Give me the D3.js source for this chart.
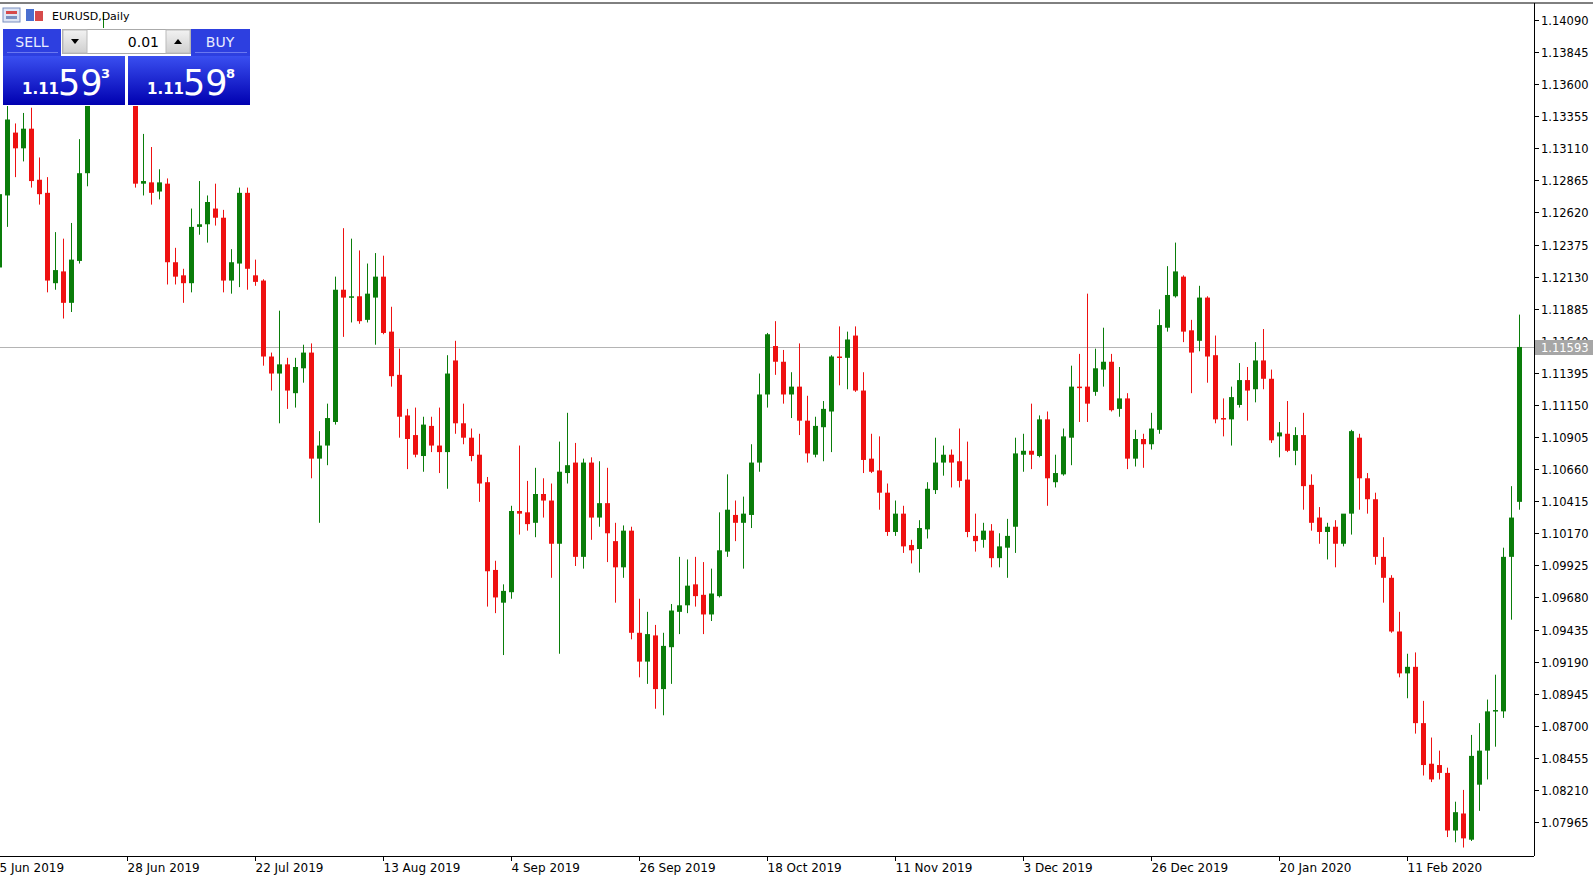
<!DOCTYPE html>
<html>
<head>
<meta charset="utf-8">
<style>
  body { margin: 0; background: #fff; }
  svg text { font-family: "DejaVu Sans", Tahoma, sans-serif; }
</style>
<script src="https://d3js.org/d3.v7.min.js"></script>
</head>
<body>
<svg id="chart"></svg>
<script>
// EURUSD daily, 5 Jun 2019 - early Mar 2020
var opens = [1.1220,1.1275,1.1323,1.1311,1.1326,1.1287,1.1277,1.1208,1.1217,1.1193,
  1.1225,1.1292,1.1348,1.1371,1.1394,1.1382,1.1386,1.1352,1.1284,1.1285,
  1.1278,1.1284,1.1224,1.1214,1.1208,1.1251,1.1253,1.1265,1.1258,1.1210,
  1.1223,1.1277,1.1214,1.1210,1.1152,1.1139,1.1146,1.1124,1.1143,1.1155,
  1.1074,1.1084,1.1102,1.1203,1.1197,1.1198,1.1180,1.1197,1.1213,1.1171,
  1.1138,1.1107,1.1092,1.1076,1.1099,1.1084,1.1079,1.1149,1.1101,1.1090,
  1.1077,1.1056,1.0989,1.0964,1.0972,1.1034,1.1033,1.1025,1.1047,1.1042,
  1.1009,1.1063,1.1071,1.0999,1.1071,1.1029,1.1040,1.1011,1.0991,1.1019,
  1.0941,1.0919,1.0939,1.0898,1.0930,1.0957,1.0962,1.0978,1.0970,1.0955,
  1.0969,1.1003,1.1031,1.1025,1.1031,1.1071,1.1123,1.1160,1.1148,1.1123,
  1.1129,1.1103,1.1077,1.1098,1.1110,1.1152,1.1151,1.1168,1.1126,1.1074,
  1.1065,1.1048,1.1018,1.1032,1.1008,1.1005,1.1020,1.1050,1.1071,1.1077,
  1.1072,1.1058,1.1015,1.1012,1.1019,1.0998,1.1006,1.1022,1.1077,1.1080,
  1.1076,1.1104,1.1056,1.1062,1.1090,1.1129,1.1129,1.1125,1.1142,1.1148,
  1.1112,1.1120,1.1074,1.1089,1.1085,1.1096,1.1174,1.1198,1.1213,1.1172,
  1.1164,1.1197,1.1153,1.1105,1.1104,1.1115,1.1134,1.1127,1.1149,1.1135,
  1.1091,1.1093,1.1080,1.1092,1.1054,1.1029,1.1018,1.1022,1.1009,1.1032,
  1.1090,1.1059,1.1043,1.0999,1.0983,1.0942,1.0910,1.0915,1.0872,1.0841,
  1.0840,1.0834,1.0790,1.0803,1.0783,1.0825,1.0851,1.0881,1.0881,1.0999,
  1.1041];
var highs = [1.1280,1.1344,1.1330,1.1338,1.1342,1.1304,1.1289,1.1247,1.1242,1.1254,
  1.1318,1.1352,1.1378,1.1414,1.1401,1.1398,1.1390,1.1356,1.1322,1.1312,
  1.1295,1.1288,1.1235,1.1219,1.1265,1.1286,1.1275,1.1284,1.1264,1.1234,
  1.1281,1.1281,1.1226,1.1211,1.1155,1.1187,1.1151,1.1151,1.1161,1.1162,
  1.1095,1.1116,1.1213,1.1250,1.1242,1.1233,1.1223,1.1231,1.1229,1.1190,
  1.1158,1.1112,1.1113,1.1106,1.1106,1.1113,1.1153,1.1164,1.1116,1.1097,
  1.1093,1.1060,1.0996,1.0978,1.1038,1.1084,1.1057,1.1067,1.1059,1.1055,
  1.1087,1.1109,1.1086,1.1074,1.1075,1.1072,1.1067,1.1025,1.1023,1.1022,
  1.0967,1.0957,1.0947,1.0941,1.0963,1.0999,1.0997,1.0999,1.0995,1.0990,
  1.1033,1.1062,1.1042,1.1045,1.1085,1.1139,1.1170,1.1179,1.1157,1.1140,
  1.1162,1.1122,1.1106,1.1118,1.1153,1.1175,1.1171,1.1175,1.1140,1.1093,
  1.1091,1.1055,1.1042,1.1038,1.1012,1.1027,1.1056,1.1090,1.1084,1.1081,
  1.1097,1.1087,1.1032,1.1025,1.1024,1.1017,1.1028,1.1090,1.1093,1.1116,
  1.1107,1.1110,1.1077,1.1097,1.1145,1.1154,1.1200,1.1158,1.1174,1.1154,
  1.1144,1.1124,1.1096,1.1093,1.1109,1.1188,1.1221,1.1239,1.1214,1.1180,
  1.1206,1.1198,1.1168,1.1120,1.1129,1.1147,1.1144,1.1163,1.1173,1.1142,
  1.1102,1.1118,1.1098,1.1109,1.1062,1.1037,1.1025,1.1027,1.1031,1.1096,
  1.1093,1.1063,1.1048,1.1014,1.0985,1.0957,1.0925,1.0926,1.0889,1.0861,
  1.0851,1.0838,1.0812,1.0821,1.0863,1.0872,1.0890,1.0909,1.1006,1.1053,
  1.1184];
var lows = [1.1218,1.1251,1.1289,1.1301,1.1281,1.1268,1.1201,1.1203,1.1181,1.1186,
  1.1223,1.1282,1.1345,1.1365,1.1371,1.1367,1.1348,1.1281,1.1275,1.1268,
  1.1272,1.1207,1.1207,1.1193,1.1201,1.1245,1.1239,1.1252,1.1201,1.1200,
  1.1205,1.1203,1.1206,1.1145,1.1126,1.1101,1.1112,1.1113,1.1132,1.1059,
  1.1025,1.1069,1.1100,1.1167,1.1178,1.1177,1.1178,1.1161,1.1169,1.1129,
  1.1090,1.1066,1.1075,1.1064,1.1079,1.1063,1.1051,1.1093,1.1085,1.1072,
  1.1041,1.0961,1.0956,1.0924,1.0967,1.1016,1.1019,1.1014,1.1029,1.0983,
  1.0925,1.1055,1.0992,1.0990,1.1012,1.1022,1.0995,1.0964,1.0983,1.0936,
  1.0907,1.0902,1.0883,1.0878,1.0902,1.0940,1.0956,1.0961,1.0940,1.0950,
  1.0968,1.0999,1.1011,1.0990,1.1021,1.1064,1.1113,1.1138,1.1116,1.1105,
  1.1092,1.1071,1.1075,1.1072,1.1079,1.1130,1.1127,1.1125,1.1063,1.1063,
  1.1035,1.1015,1.1015,1.1002,1.0994,1.0987,1.1013,1.1047,1.1061,1.1052,
  1.1052,1.1014,1.1003,1.1006,1.0991,1.0991,1.0983,1.1002,1.1064,1.1066,
  1.1075,1.1038,1.1052,1.1061,1.1069,1.1102,1.1102,1.1122,1.1129,1.1110,
  1.1106,1.1066,1.1068,1.1067,1.1081,1.1093,1.1171,1.1197,1.1163,1.1124,
  1.1156,1.1132,1.1101,1.1091,1.1084,1.1113,1.1103,1.1117,1.1127,1.1086,
  1.1075,1.1079,1.1069,1.1035,1.1019,1.1009,1.0997,1.0991,1.1007,1.1016,
  1.1035,1.1032,1.0993,1.0964,1.0941,1.0907,1.0891,1.0864,1.0832,1.0827,
  1.0829,1.0785,1.0781,1.0777,1.0782,1.0805,1.0829,1.0854,1.0876,1.0951,
  1.1035];
var closes = [1.1276,1.1333,1.1311,1.1326,1.1286,1.1276,1.1210,1.1218,1.1193,1.1226,
  1.1292,1.1348,1.1371,1.1394,1.1382,1.1386,1.1356,1.1284,1.1286,1.1277,
  1.1285,1.1224,1.1213,1.1208,1.1251,1.1253,1.1270,1.1258,1.1210,1.1224,
  1.1277,1.1219,1.1209,1.1152,1.1139,1.1146,1.1126,1.1144,1.1155,1.1074,
  1.1084,1.1105,1.1203,1.1197,1.1198,1.1179,1.1200,1.1213,1.1170,1.1137,
  1.1106,1.1089,1.1077,1.1100,1.1084,1.1079,1.1139,1.1101,1.1090,1.1076,
  1.1055,1.0988,1.0968,1.0973,1.1034,1.1032,1.1024,1.1047,1.1042,1.1009,
  1.1064,1.1069,1.0999,1.1071,1.1029,1.1040,1.1017,1.0991,1.1019,1.0941,
  1.0919,1.0940,1.0898,1.0931,1.0958,1.0962,1.0977,1.0969,1.0955,1.0971,
  1.1004,1.1035,1.1025,1.1032,1.1071,1.1123,1.1169,1.1148,1.1123,1.1129,
  1.1103,1.1078,1.1099,1.1112,1.1152,1.1151,1.1165,1.1126,1.1073,1.1064,
  1.1048,1.1018,1.1032,1.1007,1.1004,1.1021,1.1051,1.1071,1.1077,1.1071,
  1.1057,1.1018,1.1011,1.1019,1.0998,1.1007,1.1015,1.1078,1.1080,1.1077,
  1.1104,1.1059,1.1063,1.1091,1.1129,1.1128,1.1116,1.1143,1.1148,1.1111,
  1.1120,1.1074,1.1089,1.1085,1.1097,1.1176,1.1199,1.1217,1.1171,1.1155,
  1.1197,1.1152,1.1104,1.1104,1.1121,1.1134,1.1126,1.1149,1.1135,1.1088,
  1.1094,1.1080,1.1092,1.1053,1.1025,1.1018,1.1022,1.1009,1.1032,1.1095,
  1.1059,1.1043,1.0999,1.0983,1.0942,1.0910,1.0915,1.0872,1.0840,1.0829,
  1.0834,1.0790,1.0804,1.0784,1.0847,1.0851,1.0881,1.0882,1.0999,1.1029,
  1.11593];

var priceTicks = ["1.07965","1.08210","1.08455","1.08700","1.08945","1.09190","1.09435","1.09680",
  "1.09925","1.10170","1.10415","1.10660","1.10905","1.11150","1.11395","1.11640","1.11885",
  "1.12130","1.12375","1.12620","1.12865","1.13110","1.13355","1.13600","1.13845","1.14090"];
var dateLabels = ["5 Jun 2019","28 Jun 2019","22 Jul 2019","13 Aug 2019","4 Sep 2019","26 Sep 2019",
  "18 Oct 2019","11 Nov 2019","3 Dec 2019","26 Dec 2019","20 Jan 2020","11 Feb 2020"];
var dateBars = [0,16,32,48,64,80,96,112,128,144,160,176];
var lastPrice = 1.11593;

var W = 1593, H = 879;
var axisX = 1534, axisY = 856, topY = 3;
var barGap = 8, bodyW = 5;
var upColor = "#0a7d0a", downColor = "#ee1111";

var svg = d3.select("#chart").attr("width", W).attr("height", H);

var x = d3.scaleLinear().domain([0, opens.length - 1])
  .range([-0.7, -0.7 + (opens.length - 1) * barGap]);
var y = d3.scaleLinear().domain([1.07965, 1.14090]).range([822, 20]);

var candles = opens.map(function(o, i) {
  return {i: i, o: o, h: highs[i], l: lows[i], c: closes[i]};
});

// frame
svg.append("line").attr("x1", 0).attr("x2", W).attr("y1", topY).attr("y2", topY)
  .attr("stroke", "#000").attr("stroke-width", 1);
svg.append("line").attr("x1", axisX + 0.5).attr("x2", axisX + 0.5).attr("y1", topY).attr("y2", axisY)
  .attr("stroke", "#000");
svg.append("line").attr("x1", 0).attr("x2", axisX).attr("y1", axisY + 0.5).attr("y2", axisY + 0.5)
  .attr("stroke", "#000");

var plot = svg.append("g");
plot.append("clipPath").attr("id", "clip").append("rect")
  .attr("x", 0).attr("y", topY + 1).attr("width", axisX).attr("height", axisY - topY - 1);
var g = plot.append("g").attr("clip-path", "url(#clip)");

// price line
g.append("line").attr("x1", 0).attr("x2", axisX)
  .attr("y1", Math.round(y(lastPrice)) + 0.5).attr("y2", Math.round(y(lastPrice)) + 0.5)
  .attr("stroke", "#b4b4b4");

// candles
var cg = g.selectAll("g.candle").data(candles).enter().append("g").attr("class", "candle");
cg.append("line")
  .attr("x1", function(d) { return Math.round(x(d.i)) + 0.5; })
  .attr("x2", function(d) { return Math.round(x(d.i)) + 0.5; })
  .attr("y1", function(d) { return y(d.h); })
  .attr("y2", function(d) { return y(d.l); })
  .attr("stroke", function(d) { return d.c >= d.o ? upColor : downColor; })
  .attr("stroke-width", 1);
cg.append("rect")
  .attr("x", function(d) { return Math.round(x(d.i)) - 2; })
  .attr("y", function(d) { return y(Math.max(d.o, d.c)); })
  .attr("width", bodyW)
  .attr("height", function(d) { return Math.max(1.5, Math.abs(y(d.o) - y(d.c))); })
  .attr("fill", function(d) { return d.c >= d.o ? upColor : downColor; });

// price axis
var ya = svg.append("g");
priceTicks.forEach(function(t) {
  var yy = Math.round(y(+t)) + 0.5;
  ya.append("line").attr("x1", axisX).attr("x2", axisX + 5).attr("y1", yy).attr("y2", yy).attr("stroke", "#000");
  ya.append("text").attr("x", axisX + 7).attr("y", yy + 4).attr("font-size", 11.5).attr("fill", "#000").text(t);
});
var ly = Math.round(y(lastPrice));
ya.append("rect").attr("x", axisX + 1).attr("y", ly - 7).attr("width", 58).attr("height", 15).attr("fill", "#a6a6a6");
ya.append("text").attr("x", axisX + 7).attr("y", ly + 4.5).attr("font-size", 11.5).attr("fill", "#fff").text(lastPrice.toFixed(5));

// date axis
var xa = svg.append("g");
dateLabels.forEach(function(lbl, k) {
  var xx = Math.round(x(dateBars[k])) + 0.5;
  xa.append("line").attr("x1", xx).attr("x2", xx).attr("y1", axisY).attr("y2", axisY + 5).attr("stroke", "#000");
  xa.append("text").attr("x", xx).attr("y", axisY + 16).attr("font-size", 12).attr("fill", "#000").text(lbl);
});

// header
var hd = svg.append("g");
hd.append("rect").attr("x", 3).attr("y", 8).attr("width", 17).attr("height", 14).attr("fill", "#dfe6f5").attr("stroke", "#7a8fc0");
hd.append("rect").attr("x", 6).attr("y", 11).attr("width", 11).attr("height", 3).attr("fill", "#d64a4a");
hd.append("rect").attr("x", 6).attr("y", 16).attr("width", 11).attr("height", 3).attr("fill", "#7a8fc0");
hd.append("rect").attr("x", 26).attr("y", 9).attr("width", 8).attr("height", 12).attr("fill", "#4a6fd0");
hd.append("rect").attr("x", 35).attr("y", 11).attr("width", 8).attr("height", 10).attr("fill", "#d64a4a");
hd.append("text").attr("x", 52).attr("y", 20).attr("font-size", 11).attr("fill", "#000").text("EURUSD,Daily");

// one-click trading panel
var defs = svg.append("defs");
var gr = defs.append("linearGradient").attr("id", "blue").attr("x1", 0).attr("x2", 0).attr("y1", 0).attr("y2", 1);
gr.append("stop").attr("offset", "0%").attr("stop-color", "#3a4ff0");
gr.append("stop").attr("offset", "100%").attr("stop-color", "#0000b0");
var gr2 = defs.append("linearGradient").attr("id", "grey").attr("x1", 0).attr("x2", 0).attr("y1", 0).attr("y2", 1);
gr2.append("stop").attr("offset", "0%").attr("stop-color", "#f2f2f2");
gr2.append("stop").attr("offset", "100%").attr("stop-color", "#cfcfcf");

var p = svg.append("g").style("font-family", "'Liberation Sans', Arial, sans-serif");
p.append("rect").attr("x", 2).attr("y", 28).attr("width", 250).attr("height", 78).attr("fill", "#fff");
p.append("rect").attr("x", 3).attr("y", 29).attr("width", 58).attr("height", 27).attr("fill", "#2d3fe0");
p.append("line").attr("x1", 7).attr("x2", 58).attr("y1", 52.5).attr("y2", 52.5).attr("stroke", "#6a78f0");
p.append("text").attr("x", 32).attr("y", 47).attr("text-anchor", "middle").attr("font-size", 14).attr("fill", "#e8ecff").text("SELL");
p.append("rect").attr("x", 191).attr("y", 29).attr("width", 59).attr("height", 27).attr("fill", "#2d3fe0");
p.append("line").attr("x1", 195).attr("x2", 247).attr("y1", 52.5).attr("y2", 52.5).attr("stroke", "#6a78f0");
p.append("text").attr("x", 220).attr("y", 47).attr("text-anchor", "middle").attr("font-size", 14).attr("fill", "#e8ecff").text("BUY");
p.append("rect").attr("x", 62.5).attr("y", 29.5).attr("width", 128).attr("height", 24).attr("fill", "#fff").attr("stroke", "#aaa");
p.append("rect").attr("x", 63).attr("y", 30).attr("width", 24).attr("height", 23).attr("fill", "url(#grey)").attr("stroke", "#bbb");
p.append("rect").attr("x", 166).attr("y", 30).attr("width", 24).attr("height", 23).attr("fill", "url(#grey)").attr("stroke", "#bbb");
p.append("path").attr("d", "M71,39 L79,39 L75,44 Z").attr("fill", "#000");
p.append("path").attr("d", "M174,44 L182,44 L178,39 Z").attr("fill", "#000");
p.append("text").attr("x", 159).attr("y", 47).attr("text-anchor", "end").attr("font-size", 14).attr("fill", "#000").text("0.01");

[[3, "1.11", "59", "3"], [128, "1.11", "59", "8"]].forEach(function(b) {
  p.append("rect").attr("x", b[0]).attr("y", 56).attr("width", 122).attr("height", 49).attr("fill", "url(#blue)");
  p.append("text").attr("x", b[0] + 19).attr("y", 94).attr("font-size", 15).attr("font-weight", "bold").attr("fill", "#fff").text(b[1]);
  p.append("text").attr("x", b[0] + 55).attr("y", 95).attr("font-size", 35).attr("fill", "#fff").text(b[2]);
  p.append("text").attr("x", b[0] + 98).attr("y", 78).attr("font-size", 13).attr("font-weight", "bold").attr("fill", "#fff").text(b[3]);
});
</script>
</body>
</html>
